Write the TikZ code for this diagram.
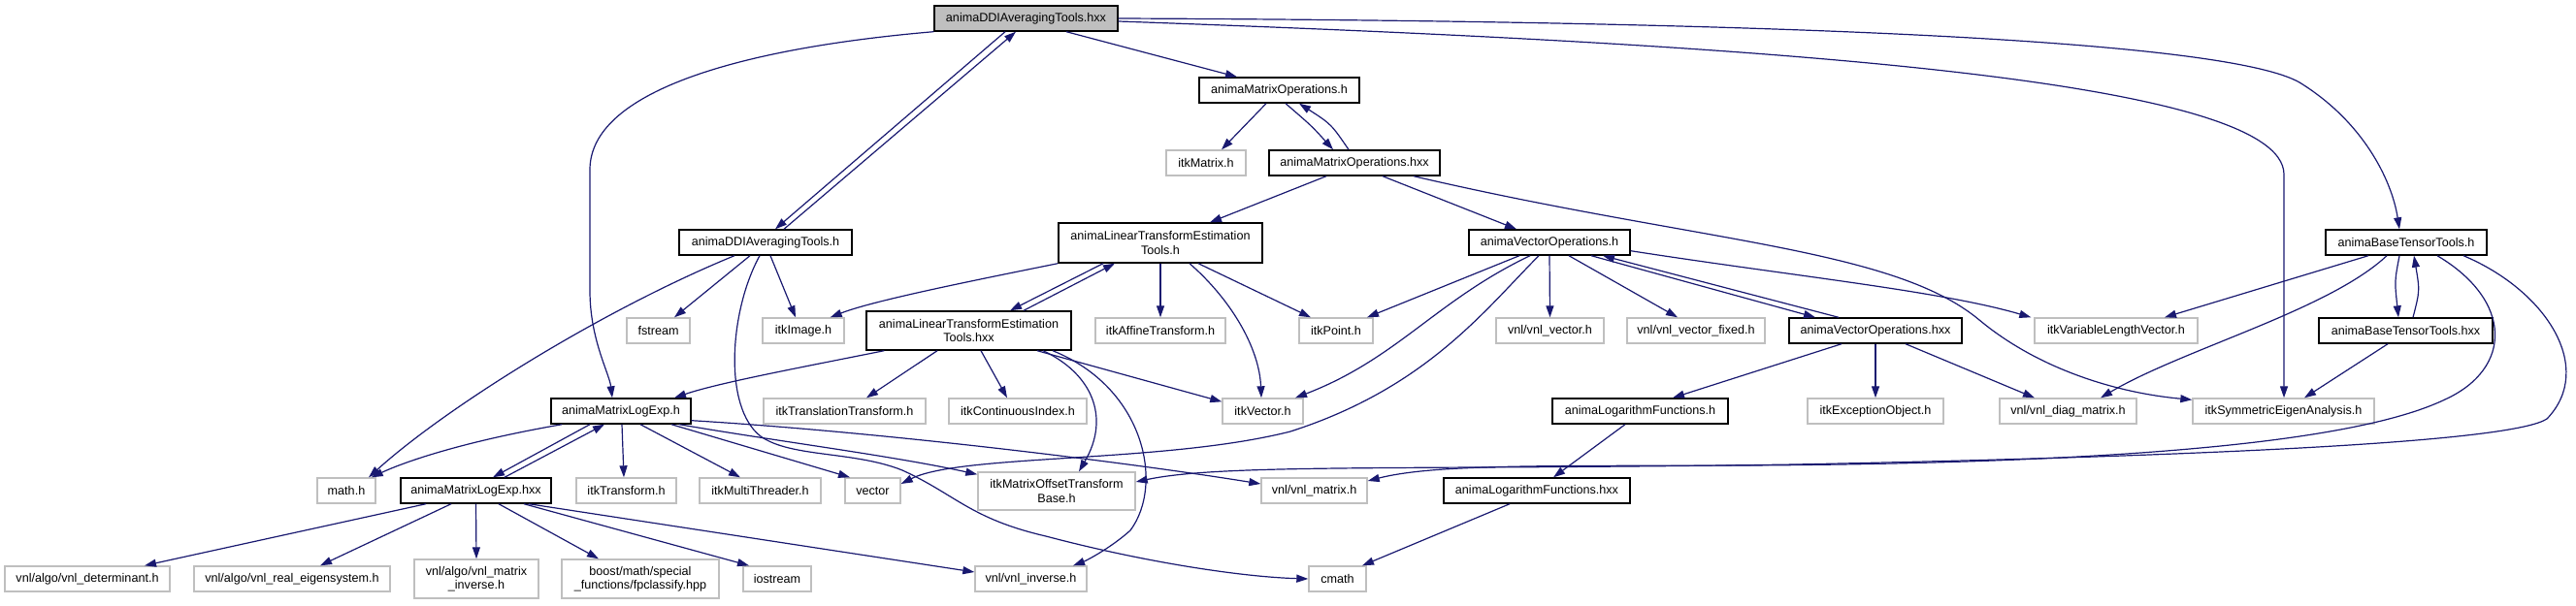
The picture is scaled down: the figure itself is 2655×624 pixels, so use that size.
\documentclass[tikz,border=0pt]{standalone}
\usepackage{fontspec}
\setmainfont{Liberation Sans}
\usetikzlibrary{arrows.meta}
\definecolor{edgeblue}{HTML}{191970}
\definecolor{grey75}{HTML}{BFBFBF}
\begin{document}
\begin{tikzpicture}[x=1pt,y=-1pt,
  box/.style={rectangle,inner xsep=2pt,inner ysep=0pt,minimum height=26pt,align=center,
    font=\fontsize{12.6}{14.5}\selectfont,line width=1.4pt,fill=white},
  mainbox/.style={box,draw=black,fill=grey75},
  localbox/.style={box,draw=black},
  extbox/.style={box,draw=grey75},
  edge/.style={draw=edgeblue,line width=1.2pt,-{Triangle[length=12pt,width=8pt]},fill=none}]
\useasboundingbox (0,0) rectangle (2655,624);
% row 0
\node[mainbox,minimum width=189pt] (A) at (1057.5,19) {animaDDIAveragingTools.hxx};
% row 1-2
\node[localbox,minimum width=165pt] (MOh) at (1318.5,93) {animaMatrixOperations.h};
\node[extbox,minimum width=82pt] (itkMatrix) at (1243,168) {itkMatrix.h};
\node[localbox,minimum width=176pt] (MOhxx) at (1396,168) {animaMatrixOperations.hxx};
% row 3
\node[localbox,minimum width=178pt] (DDIh) at (789,250) {animaDDIAveragingTools.h};
\node[localbox,minimum width=210pt,minimum height=41pt] (LTEh) at (1196,250.5) {animaLinearTransformEstimation\\Tools.h};
\node[localbox,minimum width=166pt] (VOh) at (1597,250) {animaVectorOperations.h};
\node[localbox,minimum width=166pt] (BTTh) at (2480,250) {animaBaseTensorTools.h};
% row 4
\node[extbox,minimum width=65pt] (fstream) at (678.5,341) {fstream};
\node[extbox,minimum width=84pt] (itkImage) at (828,341) {itkImage.h};
\node[localbox,minimum width=211pt,minimum height=40pt] (LTEhxx) at (998.5,341) {animaLinearTransformEstimation\\Tools.hxx};
\node[extbox,minimum width=134pt] (itkAffine) at (1196,341) {itkAffineTransform.h};
\node[extbox,minimum width=76pt] (itkPoint) at (1377,341) {itkPoint.h};
\node[extbox,minimum width=111pt] (vnlvector) at (1597.5,341) {vnl/vnl\_vector.h};
\node[extbox,minimum width=142pt] (vnlvectorfixed) at (1748,341) {vnl/vnl\_vector\_fixed.h};
\node[localbox,minimum width=178pt] (VOhxx) at (1933,341) {animaVectorOperations.hxx};
\node[extbox,minimum width=168pt] (itkVLV) at (2181,341) {itkVariableLengthVector.h};
\node[localbox,minimum width=179pt] (BTThxx) at (2479.5,341) {animaBaseTensorTools.hxx};
% row 5
\node[localbox,minimum width=144pt] (MLEh) at (640,424) {animaMatrixLogExp.h};
\node[extbox,minimum width=167pt] (itkTT) at (870.5,424) {itkTranslationTransform.h};
\node[extbox,minimum width=142pt] (itkCI) at (1049,424) {itkContinuousIndex.h};
\node[extbox,minimum width=83pt] (itkVector) at (1301.5,424) {itkVector.h};
\node[localbox,minimum width=181pt] (LFh) at (1690.5,424) {animaLogarithmFunctions.h};
\node[extbox,minimum width=140pt] (itkEO) at (1933,424) {itkExceptionObject.h};
\node[extbox,minimum width=141pt] (vnldiag) at (2131.5,424) {vnl/vnl\_diag\_matrix.h};
\node[extbox,minimum width=187pt] (itkSEA) at (2353.5,424) {itkSymmetricEigenAnalysis.h};
% row 6
\node[extbox,minimum width=60pt] (mathh) at (357,506) {math.h};
\node[localbox,minimum width=155pt] (MLEhxx) at (490.5,506) {animaMatrixLogExp.hxx};
\node[extbox,minimum width=103pt] (itkTransform) at (645.5,506) {itkTransform.h};
\node[extbox,minimum width=125pt] (itkMT) at (783.5,506) {itkMultiThreader.h};
\node[extbox,minimum width=57pt] (vector) at (899.5,506) {vector};
\node[extbox,minimum width=162pt,minimum height=39pt] (itkMOTB) at (1089,506.5) {itkMatrixOffsetTransform\\Base.h};
\node[extbox,minimum width=109pt] (vnlmatrix) at (1354.5,506) {vnl/vnl\_matrix.h};
\node[localbox,minimum width=192pt] (LFhxx) at (1584,506) {animaLogarithmFunctions.hxx};
% row 7
\node[extbox,minimum width=170pt] (vnldet) at (90,597) {vnl/algo/vnl\_determinant.h};
\node[extbox,minimum width=202pt] (vnlreal) at (301,597) {vnl/algo/vnl\_real\_eigensystem.h};
\node[extbox,minimum width=128pt,minimum height=40pt] (vnlmatinv) at (491,597) {vnl/algo/vnl\_matrix\\\_inverse.h};
\node[extbox,minimum width=162pt,minimum height=40pt] (boost) at (660,597) {boost/math/special\\\_functions/fpclassify.hpp};
\node[extbox,minimum width=70pt] (iostream) at (801,597) {iostream};
\node[extbox,minimum width=115pt] (vnlinv) at (1062.5,597) {vnl/vnl\_inverse.h};
\node[extbox,minimum width=59pt] (cmath) at (1378.5,597) {cmath};

% ---- edges from animaDDIAveragingTools.hxx
\draw[edge] ([xshift=41.5]A.south) -- ([xshift=-43.5]MOh.north);
\draw[edge] ([xshift=-21.5]A.south) -- ([xshift=10]DDIh.north);
\draw[edge] ([xshift=19]DDIh.north) -- ([xshift=-10.5]A.south);
\draw[edge] (A.south west) .. controls (760,50) and (608,95) .. (608,175) -- (608,300)
  .. controls (608,350) and (628,385) .. ([xshift=-9]MLEh.north);
\draw[edge] (A.east) .. controls (1900,22) and (2300,45) .. (2370,85)
  .. controls (2435,125) and (2465,185) .. ([xshift=-7]BTTh.north);
\draw[edge] ([yshift=-3]A.east) .. controls (1800,45) and (2354,80) .. (2354,180) -- ([xshift=0.5]itkSEA.north);
% ---- animaMatrixOperations.h / .hxx
\draw[edge] ([xshift=-13.5]MOh.south) -- ([xshift=16]itkMatrix.north);
\draw[edge] ([xshift=6.5]MOh.south) .. controls (1352,130) .. ([xshift=-22]MOhxx.north);
\draw[edge] ([xshift=-6]MOhxx.north) .. controls (1372,128) .. ([xshift=20.5]MOh.south);
\draw[edge] ([xshift=-29]MOhxx.south) -- ([xshift=51]LTEh.north);
\draw[edge] ([xshift=29]MOhxx.south) -- ([xshift=-34]VOh.north);
\draw[edge] ([xshift=61]MOhxx.south) .. controls (1750,250) and (1950,255) .. (2040,330)
  .. controls (2100,380) and (2180,405) .. ([yshift=-2]itkSEA.north west);
% ---- animaDDIAveragingTools.h
\draw[edge] ([xshift=-32]DDIh.south) .. controls (620,320) and (460,420) .. ([xshift=23]mathh.north);
\draw[edge] ([xshift=-16]DDIh.south) -- ([xshift=16.5]fstream.north);
\draw[edge] ([xshift=5]DDIh.south) -- ([xshift=-8]itkImage.north);
\draw[edge] ([xshift=-6]DDIh.south) .. controls (752,320) and (745,420) .. (784,450)
  .. controls (815,472) and (880,465) .. (930,485)
  .. controls (985,510) and (1000,535) .. (1078,553)
  .. controls (1180,580) and (1280,595) .. (cmath.west);
% ---- animaLinearTransformEstimationTools.h
\draw[edge] (LTEh.south west) .. controls (1000,290) and (900,310) .. ([xshift=-15]itkImage.north east);
\draw[edge] ([xshift=-59]LTEh.south) -- ([xshift=42.5]LTEhxx.north);
\draw[edge] ([xshift=56.5]LTEhxx.north) -- ([xshift=-47]LTEh.south);
\draw[edge] (LTEh.south) -- (itkAffine.north);
\draw[edge] ([xshift=30]LTEh.south) .. controls (1270,310) and (1298,360) .. ([xshift=-1.5]itkVector.north);
\draw[edge] ([xshift=39]LTEh.south) -- ([xshift=-26]itkPoint.north);
% ---- animaVectorOperations.h
\draw[edge] ([xshift=-31]VOh.south) -- ([xshift=32]itkPoint.north);
\draw[edge] ([xshift=-20]VOh.south) .. controls (1480,310) and (1440,370) .. ([xshift=33.5]itkVector.north);
\draw[edge] ([xshift=-11]VOh.south) .. controls (1530,320) and (1470,400) .. (1330,445)
  .. controls (1200,478) and (990,468) .. ([yshift=7]vector.east);
\draw[edge] (VOh.south) -- (vnlvector.north);
\draw[edge] ([xshift=20]VOh.south) -- ([xshift=-19]vnlvectorfixed.north);
\draw[edge] ([xshift=43]VOh.south) -- ([xshift=-62]VOhxx.north);
\draw[edge] ([xshift=-38]VOhxx.north) -- ([xshift=55]VOh.south);
\draw[edge] ([yshift=5]VOh.south east) .. controls (1850,285) and (2000,300) .. ([xshift=-3]itkVLV.north west);
% ---- animaBaseTensorTools.h
\draw[edge] ([xshift=-39]BTTh.south) -- ([xshift=50]itkVLV.north);
\draw[edge] ([xshift=-20]BTTh.south) .. controls (2400,320) and (2250,360) .. ([xshift=33.5]vnldiag.north);
\draw[edge] ([xshift=-7]BTTh.south) .. controls (2468,290) .. ([xshift=-7.5]BTThxx.north);
\draw[edge] ([xshift=7.5]BTThxx.north) .. controls (2494,300) .. ([xshift=8]BTTh.south);
\draw[edge] ([xshift=-18.5]BTThxx.south) -- ([xshift=21.5]itkSEA.north);
\draw[edge] ([xshift=32]BTTh.south) .. controls (2590,310) and (2590,380) .. (2520,412)
  .. controls (2420,460) and (2150,478) .. (1800,480)
  .. controls (1600,481) and (1480,478) .. ([yshift=10]vnlmatrix.east);
\draw[edge] ([xshift=59]BTTh.south) .. controls (2625,300) and (2675,380) .. (2625,432)
  .. controls (2590,455) and (2300,470) .. (1850,479)
  .. controls (1450,485) and (1260,478) .. ([yshift=9.5]itkMOTB.east);
% ---- animaVectorOperations.hxx / logarithm
\draw[edge] ([xshift=-35]VOhxx.south) -- ([xshift=33.5]LFh.north);
\draw[edge] (VOhxx.south) -- (itkEO.north);
\draw[edge] ([xshift=31]VOhxx.south) -- ([xshift=-34.5]vnldiag.north);
\draw[edge] ([xshift=-15.5]LFh.south) -- ([xshift=17]LFhxx.north);
\draw[edge] ([xshift=-28]LFhxx.south) -- ([xshift=25.5]cmath.north);
% ---- animaLinearTransformEstimationTools.hxx
\draw[edge] ([xshift=19]LTEhxx.south west) .. controls (820,380) and (740,395) .. ([xshift=55]MLEh.north);
\draw[edge] ([xshift=-32.5]LTEhxx.south) -- ([xshift=22.5]itkTT.north);
\draw[edge] ([xshift=12.5]LTEhxx.south) -- ([xshift=-11]itkCI.north);
\draw[edge] ([xshift=70.5]LTEhxx.south) -- ([yshift=-4]itkVector.north west);
\draw[edge] ([xshift=76.5]LTEhxx.south) .. controls (1125,385) and (1145,430) .. ([xshift=23]itkMOTB.north);
\draw[edge] ([xshift=86.5]LTEhxx.south) .. controls (1180,400) and (1200,500) .. (1165,547)
  .. controls (1145,565) and (1120,578) .. ([xshift=43.5]vnlinv.north);
% ---- animaMatrixLogExp.h
\draw[edge] ([xshift=12]MLEh.south west) .. controls (480,455) and (420,475) .. ([xshift=-5]mathh.north east);
\draw[edge] ([xshift=-32]MLEh.south) -- ([xshift=17.5]MLEhxx.north);
\draw[edge] ([xshift=29.5]MLEhxx.north) -- ([xshift=-17]MLEh.south);
\draw[edge] ([xshift=1]MLEh.south) -- ([xshift=-2.5]itkTransform.north);
\draw[edge] ([xshift=20]MLEh.south) -- ([xshift=-20.5]itkMT.north);
\draw[edge] ([xshift=52]MLEh.south) -- ([xshift=-23.5]vector.north);
\draw[edge] ([xshift=60]MLEh.south) .. controls (800,455) and (920,470) .. ([yshift=-3]itkMOTB.north west);
\draw[edge] ([yshift=4]MLEh.south east) .. controls (900,445) and (1150,475) .. ([yshift=7]vnlmatrix.west);
% ---- animaMatrixLogExp.hxx
\draw[edge] ([xshift=-51.5]MLEhxx.south) -- ([xshift=59]vnldet.north);
\draw[edge] ([xshift=-25.5]MLEhxx.south) -- ([xshift=29]vnlreal.north);
\draw[edge] (MLEhxx.south) -- (vnlmatinv.north);
\draw[edge] ([xshift=23.5]MLEhxx.south) -- ([xshift=-43]boost.north);
\draw[edge] ([xshift=49.5]MLEhxx.south) -- ([xshift=-29]iostream.north);
\draw[edge] ([xshift=54.5]MLEhxx.south) -- ([yshift=7]vnlinv.west);
\end{tikzpicture}
\end{document}
